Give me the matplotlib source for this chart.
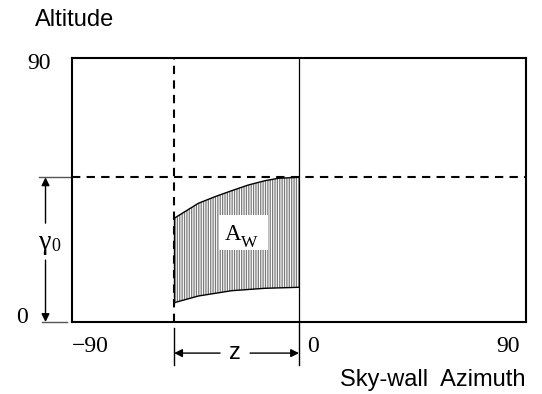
import numpy as np
import matplotlib
matplotlib.use("Agg")
import matplotlib.pyplot as plt
from matplotlib.patches import Rectangle

# data
x_top = [-49.5, -39.9, -33.3, -26.7, -20.1, -13.5, -8.2, 0]
y_top = [35.35, 40.47, 42.72, 44.76, 46.70, 48.17, 48.99, 49.33]
x_bot = [-49.5, -39.9, -26.7, -13.5, 0]
y_bot = [6.58, 8.86, 10.67, 11.49, 11.83]
z_az = -49.5
gamma0 = 49.3
xlim = (-90, 90)
ylim = (0, 90)
xtick_vals = [-90, 0, 90]
xtick_labels = ["\u221290", "0", "90"]
ytick_vals = [0, 90]
ytick_labels = ["0", "90"]

serif = "Liberation Serif"
sans = "Liberation Sans"
plt.rcParams['hatch.color'] = '#7a7a7a'
plt.rcParams['hatch.linewidth'] = 0.9

fig = plt.figure(figsize=(5.42, 3.94), dpi=100)
ax = fig.add_axes([72/542, 1-322/394, 454/542, 264/394])
ax.set_xlim(*xlim)
ax.set_ylim(*ylim)
ax.set_xticks([])
ax.set_yticks([])
for s in ax.spines.values():
    s.set_linewidth(1.5)

xs = np.linspace(z_az, 0, 300)
yt = np.interp(xs, x_top, y_top)
yb = np.interp(xs, x_bot, y_bot)
ax.fill_between(xs, yb, yt, facecolor='white', edgecolor='#7a7a7a', hatch='|||||||', linewidth=0)
ax.plot(x_top, y_top, color='black', lw=1.0)
ax.plot(x_bot, y_bot, color='black', lw=1.0)
ax.plot([z_az, z_az], [y_bot[0], y_top[0]], color='black', lw=1.0)

# reference lines
ax.axvline(z_az, color='black', lw=1.5, ls=(0, (4, 3)))
ax.axhline(gamma0, color='black', lw=1.5, ls=(0, (4, 3)))
ax.axvline(0, color='black', lw=0.9)

# A_W label
ax.add_patch(Rectangle((-31.7, 24.5), 19.4, 12.0, facecolor='white', edgecolor='none', zorder=3))
ax.text(-26.2, 27.9, "A", fontsize=16.5, family=serif, ha='center', va='baseline', zorder=4)
ax.text(-23.1, 25.4, "W", fontsize=12.5, family=serif, ha='left', va='baseline', zorder=4)

# tick labels
ax.text(-82.9, -8.5, xtick_labels[0], family=serif, fontsize=17, ha='center', va='center', clip_on=False)
ax.text(5.5, -8.5, xtick_labels[1], family=serif, fontsize=17, ha='center', va='center', clip_on=False)
ax.text(83.0, -8.5, xtick_labels[2], family=serif, fontsize=17, ha='center', va='center', clip_on=False)
ax.text(-109.8, 1.4, ytick_labels[0], family=serif, fontsize=17, ha='center', va='center', clip_on=False)
ax.text(-103.1, 88.0, ytick_labels[1], family=serif, fontsize=17, ha='center', va='center', clip_on=False)

# gamma0 dimension
ax.plot([-103, -90], [gamma0, gamma0], color='#555555', lw=1.0, clip_on=False)
ax.plot([-102, -92], [0, 0], color='#555555', lw=1.0, clip_on=False)
ax.annotate("", xy=(-100.5, gamma0), xytext=(-100.5, 33.7), annotation_clip=False,
            arrowprops=dict(arrowstyle='-|>', color='black', lw=1.0, mutation_scale=12, shrinkA=0, shrinkB=0))
ax.annotate("", xy=(-100.5, 0), xytext=(-100.5, 21.1), annotation_clip=False,
            arrowprops=dict(arrowstyle='-|>', color='black', lw=1.0, mutation_scale=12, shrinkA=0, shrinkB=0))
ax.text(-100.6, 25.0, "\u03b3", family=serif, fontsize=20, ha='center', va='baseline', clip_on=False)
ax.text(-96.4, 24.1, "0", family=serif, fontsize=13, ha='center', va='baseline', clip_on=False)

# z dimension
ax.plot([z_az, z_az], [-2, -14.7], color='black', lw=1.0, clip_on=False)
ax.plot([0, 0], [0, -14.7], color='black', lw=1.0, clip_on=False)
ax.annotate("", xy=(z_az, -10.6), xytext=(-31.3, -10.6), annotation_clip=False,
            arrowprops=dict(arrowstyle='-|>', color='black', lw=1.0, mutation_scale=12, shrinkA=0, shrinkB=0))
ax.annotate("", xy=(0, -10.6), xytext=(-19.4, -10.6), annotation_clip=False,
            arrowprops=dict(arrowstyle='-|>', color='black', lw=1.0, mutation_scale=12, shrinkA=0, shrinkB=0))
ax.text(-25.6, -10.6, "z", family=sans, fontsize=17, ha='center', va='center', clip_on=False)

# axis titles
fig.text(35/542, 1-20/394, "Altitude", family=sans, fontsize=17, ha='left', va='center')
fig.text(525/542, 1-380/394, "Sky-wall  Azimuth", family=sans, fontsize=17, ha='right', va='center')

fig.savefig("out.png", dpi=100)
